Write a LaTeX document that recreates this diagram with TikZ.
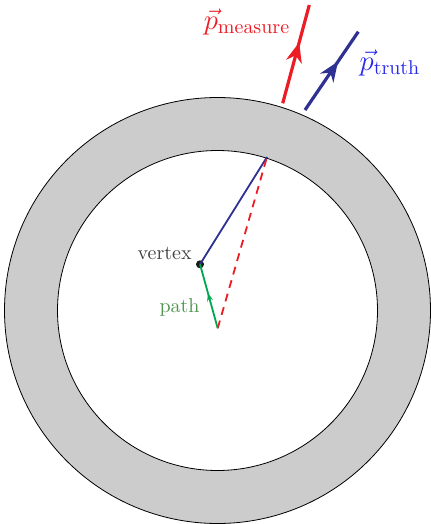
\documentclass[tikz,border=0pt]{standalone}
\usetikzlibrary{decorations.markings,arrows.meta}
\definecolor{myred}{RGB}{237,28,36}
\definecolor{mybluel}{RGB}{46,49,146}
\definecolor{mybluet}{RGB}{40,40,235}
\definecolor{mygreenl}{RGB}{0,166,80}
\definecolor{mygreent}{RGB}{80,150,80}
\definecolor{mygray}{RGB}{64,64,64}
\tikzset{
  midarrow/.style n args={2}{postaction={decorate},decoration={markings,mark=at position #1 with {\arrow{#2}}}},
}
\begin{document}
\begin{tikzpicture}[x=0.5pt,y=-0.5pt]
\useasboundingbox (0,0) rectangle (430,524);
\coordinate (c) at (217.5,310.5);
\fill[black!20,even odd rule] (c) circle[radius=213] (c) circle[radius=160];
\draw[line width=0.4pt] (c) circle[radius=213];
\draw[line width=0.4pt] (c) circle[radius=160];
\coordinate (o) at (217.7,328.3);
\coordinate (hit) at (267,157);
\node[circle,fill=black!90,inner sep=0pt,minimum size=4pt] (v) at (200,264.3) {};
\draw[mybluel,line width=0.9pt] (v.center) -- (hit);
\draw[myred,line width=0.9pt,dash pattern=on 4pt off 3pt] (o) -- (hit);
\draw[mygreenl,line width=0.9pt,midarrow={0.55}{Stealth[length=4pt,width=3pt]}] (o) -- (v.center);
\node[mygray,anchor=east,inner sep=1pt] (vt) at (194,253) {vertex};
\node[mygreent,anchor=east,inner sep=1pt] (pt) at (202,307) {path};
\coordinate (r1) at (282.7,103.3);
\coordinate (r2) at (309.3,5);
\coordinate (b1) at (305,110);
\coordinate (b2) at (358.3,31.7);
\draw[myred,line width=1.6pt,midarrow={0.62}{Stealth[length=10pt,width=8pt]}] (r1) -- (r2);
\draw[mybluel,line width=1.6pt,midarrow={0.62}{Stealth[length=10pt,width=8pt]}] (b1) -- (b2);
\node[myred,inner sep=0pt] (pm) at (247,22) {\Large$\vec{p}_{\mathrm{measure}}$};
\node[mybluet,inner sep=0pt] (ptr) at (390,63) {\Large$\vec{p}_{\mathrm{truth}}$};
\end{tikzpicture}
\end{document}
